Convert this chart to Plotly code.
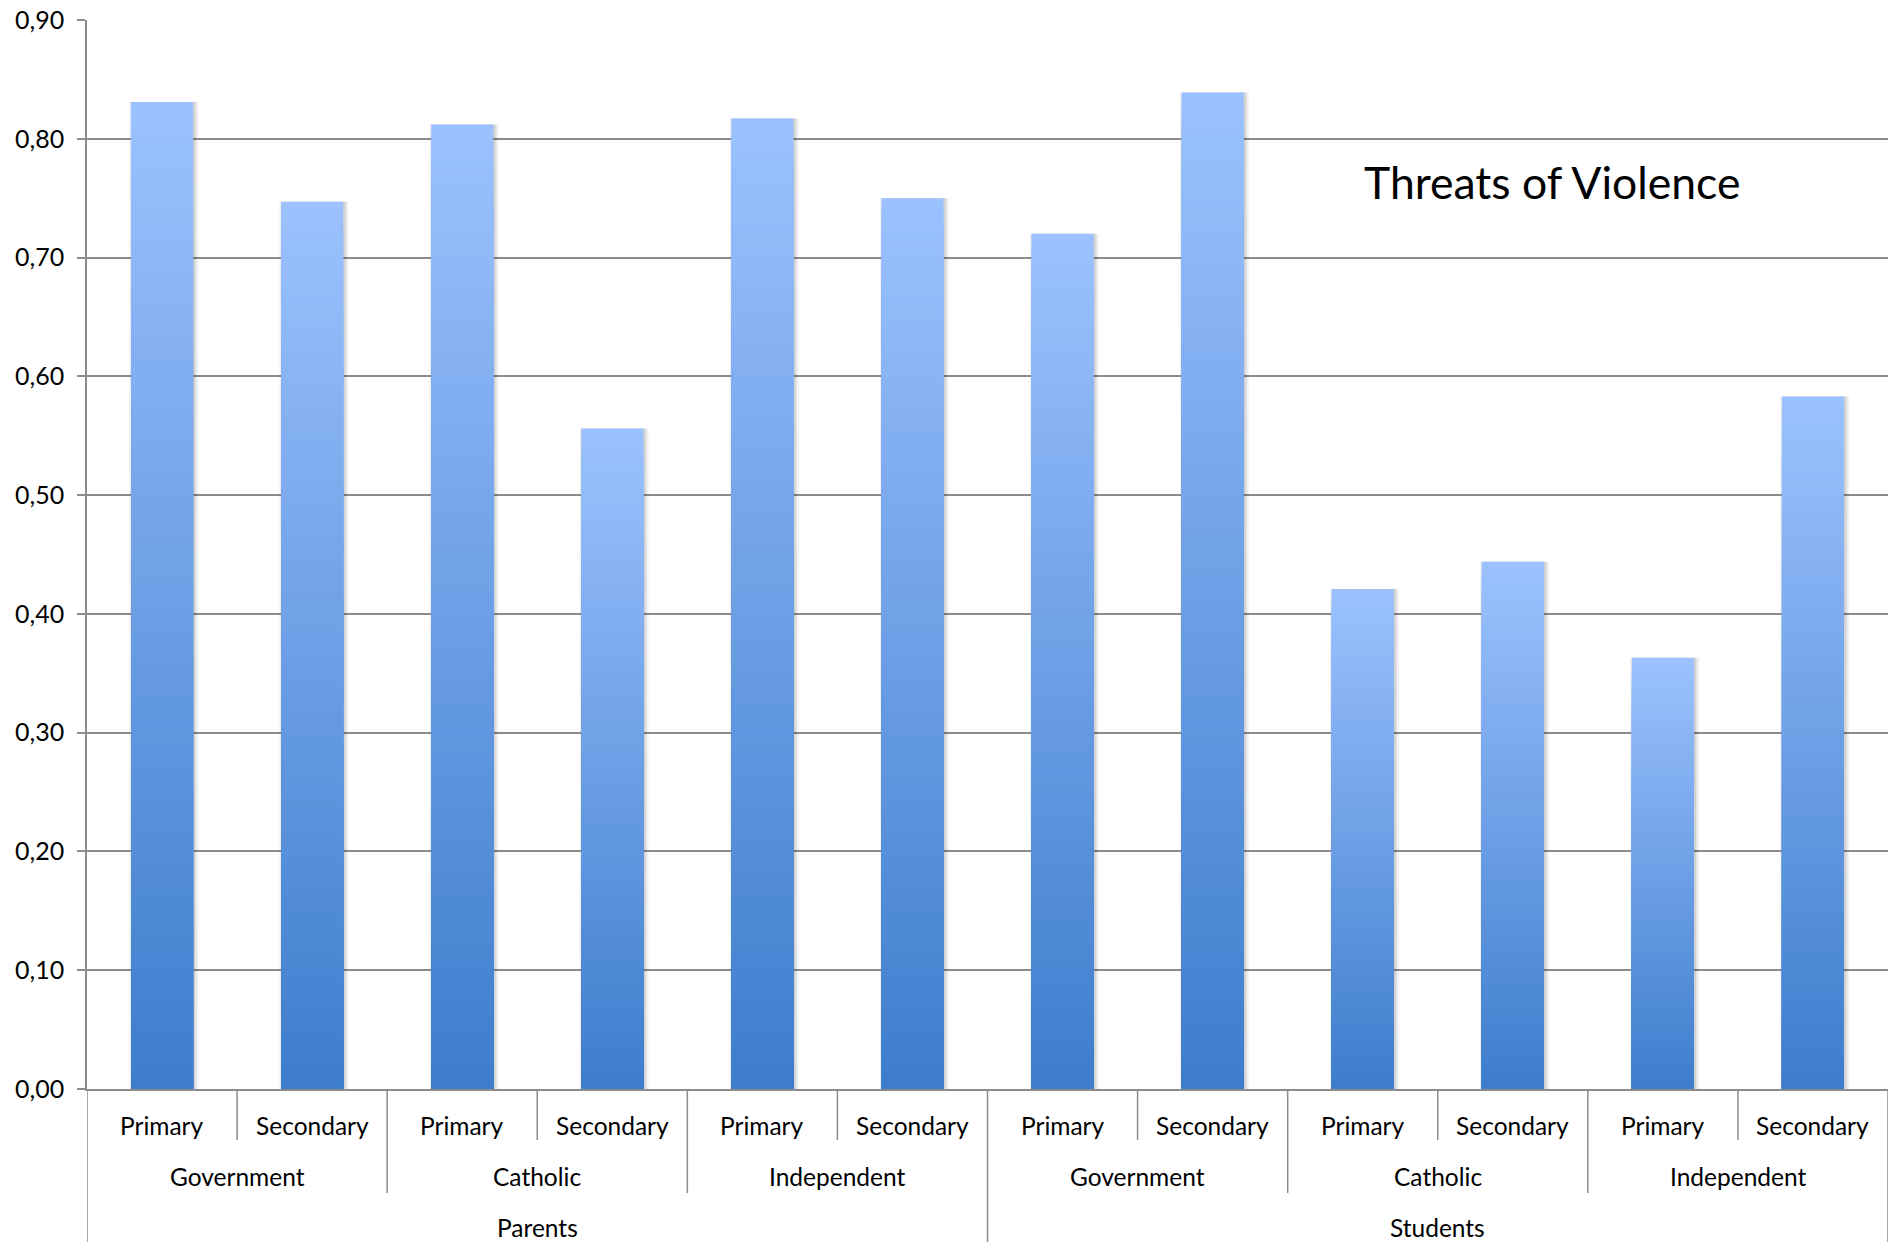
import plotly.graph_objects as go

# Grouping levels of the category axis (outer -> inner)
respondents = ["Parents", "Students"]
sectors = ["Government", "Catholic", "Independent"]
levels = ["Primary", "Secondary"]

# Mean score per respondent / sector / school level
values = [0.831, 0.747, 0.812, 0.556, 0.817, 0.750,
          0.720, 0.839, 0.421, 0.444, 0.363, 0.583]

y_ticks = [0.0, 0.1, 0.2, 0.3, 0.4, 0.5, 0.6, 0.7, 0.8, 0.9]
title_text = "Threats of Violence"

n_lev = len(levels)
n_sec = len(sectors) * n_lev
n_bars = len(respondents) * n_sec
xpos = list(range(n_bars))

FONT = "Lato, 'Open Sans', sans-serif"
GRID = "#8C8C8C"
TOP_RGB = (156, 194, 255)
BOT_RGB = (61, 125, 204)
BAR_W = 0.413
CAT_SIZE = 24.5

fig = go.Figure()

# soft drop shadow behind each bar
for w, dx, a in [(0.46, 0.012, 0.05), (0.44, 0.010, 0.06), (0.425, 0.008, 0.08)]:
    fig.add_trace(go.Bar(
        x=xpos, y=values, width=w, offset=-w / 2 + dx,
        marker=dict(color=f"rgba(0,0,0,{a})", line=dict(width=0)),
        hoverinfo="skip",
    ))

# vertical gradient: overlaid layers, each shorter one a little darker
N = 80
for k in range(N):
    frac_top = (N - k) / N
    mid = (N - k - 0.5) / N
    r, g, b = (round(BOT_RGB[i] + (TOP_RGB[i] - BOT_RGB[i]) * mid) for i in range(3))
    fig.add_trace(go.Bar(
        x=xpos, y=[v * frac_top for v in values], width=BAR_W,
        marker=dict(color=f"rgb({r},{g},{b})", line=dict(width=0)),
        hoverinfo="skip" if k else "y",
    ))

annotations = []
shapes = []


def cat_label(x, text, shift):
    return dict(x=x, y=0, xref="x", yref="paper", text=text,
                showarrow=False, xanchor="center", yanchor="middle", yshift=shift,
                font=dict(family=FONT, size=CAT_SIZE, color="#000"))


# three-level category labels
for ri, resp in enumerate(respondents):
    for si, sec in enumerate(sectors):
        for li, lev in enumerate(levels):
            i = ri * n_sec + si * n_lev + li
            annotations.append(cat_label(i, lev, -36))
        annotations.append(cat_label(ri * n_sec + si * n_lev + (n_lev - 1) / 2, sec, -87))
    annotations.append(cat_label(ri * n_sec + (n_sec - 1) / 2, resp, -138))

# divider lines between category groups
for bnd in range(n_bars + 1):
    if bnd % n_sec == 0:
        depth = 153
    elif bnd % n_lev == 0:
        depth = 104
    else:
        depth = 51
    shapes.append(dict(type="line", xref="x", yref="paper", ysizemode="pixel",
                       yanchor=0, x0=bnd - 0.5, x1=bnd - 0.5, y0=0, y1=-depth,
                       line=dict(color=GRID, width=1.5)))

annotations.append(dict(x=0.8134, y=0.849, xref="paper", yref="paper",
                        text=title_text, showarrow=False,
                        xanchor="center", yanchor="middle",
                        font=dict(family=FONT, size=44.5, color="#000")))

fig.update_layout(
    width=1890, height=1242,
    margin=dict(l=87, r=2, t=20, b=153),
    paper_bgcolor="white", plot_bgcolor="white",
    barmode="overlay", showlegend=False, separators=",.",
    annotations=annotations, shapes=shapes,
    xaxis=dict(range=[-0.5, n_bars - 0.5], showticklabels=False, showgrid=False,
               zeroline=False, showline=True, linecolor=GRID, linewidth=1.5,
               ticks=""),
    yaxis=dict(range=[0, 0.9], tickvals=y_ticks, tickformat=".2f",
               showgrid=True, gridcolor=GRID, gridwidth=1.5,
               zeroline=False, showline=True, linecolor=GRID, linewidth=1.5,
               ticks="outside", ticklen=8, tickcolor=GRID, tickwidth=1.5,
               ticklabelstandoff=8,
               tickfont=dict(family=FONT, size=25, color="#000")),
)

fig.write_html("out.html")
